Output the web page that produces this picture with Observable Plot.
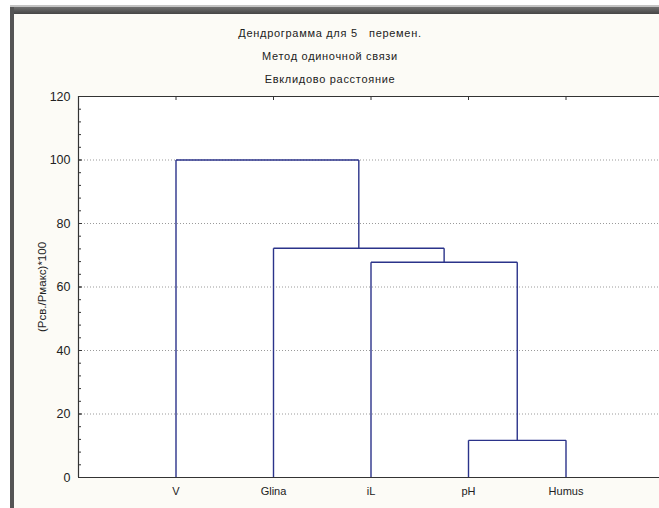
<!DOCTYPE html>
<html><head><meta charset="utf-8">
<script src="https://cdn.jsdelivr.net/npm/d3@7"></script>
<script src="https://cdn.jsdelivr.net/npm/@observablehq/plot@0.6"></script>
<style>
body{margin:0;background:#fff;width:659px;height:508px;overflow:hidden;position:relative;font-family:Arial,"Liberation Sans",sans-serif}
#win{position:absolute;left:10px;top:5px;right:0;bottom:0;background:#fcfbf6;border-top:2px solid #c4c4c4}
#bt{position:absolute;left:10px;top:7px;right:0;height:7px;background:linear-gradient(#707070,#454545)}
#bl{position:absolute;left:10px;top:7px;width:4px;bottom:0;background:#555}
.t{position:absolute;left:0;width:660px;text-align:center;font-size:11px;letter-spacing:.7px;color:#222;line-height:14px}
#chart{position:absolute;left:0;top:0}
</style></head>
<body>
<div id="win"></div><div id="bt"></div><div id="bl"></div>
<div id="chart"></div>
<div class="t" style="top:26px">Дендрограмма для 5&nbsp;&nbsp;&nbsp;перемен.</div>
<div class="t" style="top:49px">Метод одиночной связи</div>
<div class="t" style="top:72px">Евклидово расстояние</div>
<script>
// Data
const leaves = ["V", "Glina", "iL", "pH", "Humus"];
// Single-linkage merges: cluster A, cluster B, joining distance
const mergeA = ["pH", "iL", "Glina", "V"];
const mergeB = ["Humus", "c0", "c1", "c2"];
const mergeHeight = [11.7, 67.8, 72.2, 100];
const yTicks = [0, 20, 40, 60, 80, 100, 120];
const yMinorTicks = d3.range(0, 121, 4);
const gridValues = [20, 40, 60, 80, 100];
const yLabel = "(Рсв./Рмакс)*100";

// Build dendrogram segments from merges
const nodes = new Map(leaves.map((d, i) => [d, {x: i + 1, h: 0}]));
const segs = [];
mergeA.forEach((a, i) => {
  const A = nodes.get(a), B = nodes.get(mergeB[i]), h = mergeHeight[i];
  segs.push({x1: A.x, y1: A.h, x2: A.x, y2: h});
  segs.push({x1: B.x, y1: B.h, x2: B.x, y2: h});
  segs.push({x1: A.x, y1: h, x2: B.x, y2: h});
  nodes.set("c" + i, {x: (A.x + B.x) / 2, h});
});

const W = 659, H = 508, ML = 78, step = 97.5;
const leafPos = leaves.map((d, i) => i + 1);

const chart = Plot.plot({
  width: W, height: H,
  marginLeft: ML, marginRight: 0, marginTop: 96, marginBottom: 31,
  style: {fontFamily: "Arial, 'Liberation Sans', sans-serif", background: "transparent", color: "#222"},
  x: {domain: [0, (W - ML) / step]},
  y: {domain: [0, 120]},
  marks: [
    Plot.frame({fill: "white", stroke: "none"}),
    Plot.ruleY(gridValues, {stroke: "#9a9a9a", strokeDasharray: "1,2", strokeWidth: 1}),
    Plot.axisY(yMinorTicks, {tickSize: -3, text: null, stroke: "#333", label: null}),
    Plot.axisY(yTicks, {tickSize: -4, text: null, stroke: "#333", label: null}),
    Plot.axisY(yTicks, {tickSize: 0, tickPadding: 8, fontSize: 12.5, fill: "#222", label: null}),
    Plot.axisX(leafPos, {anchor: "top", tickSize: -3, text: null, stroke: "#333", label: null}),
    Plot.axisX(leafPos, {anchor: "bottom", tickSize: 0, tickPadding: 10, tickFormat: i => leaves[i - 1], fontSize: 11, fill: "#222", label: null, style: {letterSpacing: "1.4px"}}),
    Plot.text([yLabel], {text: d => d, frameAnchor: "left", textAnchor: "middle", rotate: -90, dx: -36, fontSize: 11.5, fill: "#222", style: {letterSpacing: "1px"}}),
    Plot.link(segs, {x1: "x1", y1: "y1", x2: "x2", y2: "y2", stroke: "#2b338a", strokeWidth: 1.4}),
    Plot.ruleY([0, 120], {stroke: "#333", strokeWidth: 1.2}),
    Plot.ruleX([0], {stroke: "#333", strokeWidth: 1.2})
  ]
});
document.getElementById("chart").appendChild(chart);
</script>
</body></html>
